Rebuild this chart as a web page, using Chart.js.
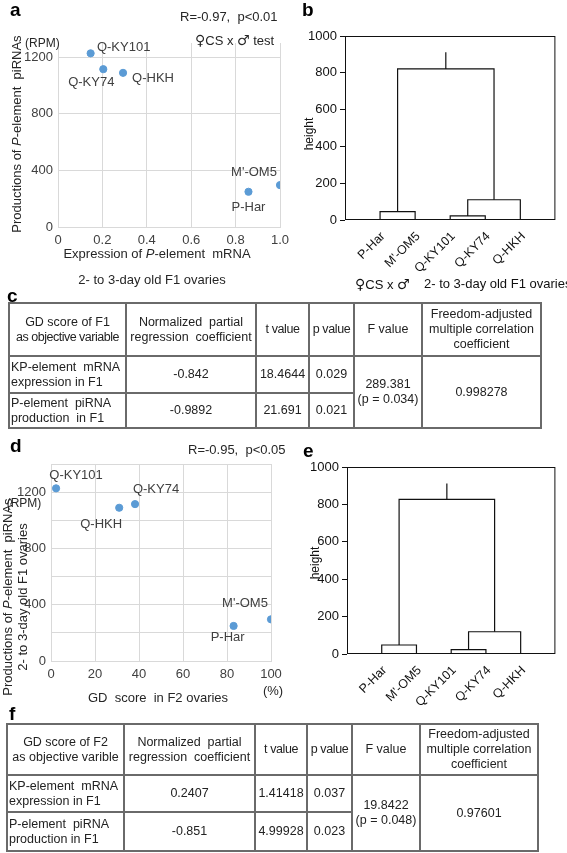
<!DOCTYPE html>
<html lang="en">
<head>
<meta charset="UTF-8">
<title>P-element piRNA / GD score</title>
<script src="https://cdn.jsdelivr.net/npm/chart.js"></script>
<style>
  body { margin:0; background:#fff; }
  #page { position:relative; width:567px; height:853px; overflow:hidden; font-family:"Liberation Sans", Arial, "DejaVu Sans", sans-serif; color:#262626; }
  canvas { position:absolute; }
  .t { position:absolute; white-space:nowrap; line-height:1; }
  .c { transform:translate(-50%,-50%); }
  .r { transform:translate(-50%,-50%) rotate(-90deg); text-align:center; }
  .panel { font-weight:bold; font-size:19px; color:#000; }
  .sym { font-family:"DejaVu Sans", sans-serif; font-size:14px; }
  table.stat { position:absolute; border-collapse:collapse; table-layout:fixed; font-size:12.5px; color:#222; }
  table.stat td { border:2px solid #6a6a6a; text-align:center; vertical-align:middle; padding:0 1px; line-height:15px; white-space:nowrap; overflow:hidden; }
  table.stat td.lab { text-align:left; padding-left:1px; }
</style>
</head>
<body>
<div id="page">
  <canvas id="chartA" style="left:0;top:0" width="300" height="290"></canvas>
  <canvas id="chartB" style="left:300px;top:0" width="267" height="280"></canvas>
  <canvas id="chartD" style="left:0;top:440px" width="300" height="270"></canvas>
  <canvas id="chartE" style="left:300px;top:440px" width="267" height="270"></canvas>

  <!-- panel a -->
  <div class="t panel" style="left:10px;top:0">a</div>
  <div class="t" style="left:180px;top:10px;font-size:13px">R=-0.97,&nbsp; p&lt;0.01</div>
  <div class="t" style="left:195px;top:33px;font-size:13px"><span class="sym">♀</span>CS x <span class="sym">♂</span> test</div>
  <div class="t" style="left:25px;top:37px;font-size:12px">(RPM)</div>
  <div class="t r" style="left:16px;top:134px;font-size:13px">Productions of <i>P</i>-element&nbsp; piRNAs</div>
  <div class="t c" style="left:157px;top:253px;font-size:13px">Expression of <i>P</i>-element&nbsp; mRNA</div>
  <div class="t c" style="left:152px;top:279px;font-size:13px">2- to 3-day old F1 ovaries</div>

  <!-- panel b -->
  <div class="t panel" style="left:302px;top:0">b</div>
  <div class="t r" style="left:309px;top:134px;font-size:12px;color:#111">height</div>
  <div class="t" style="left:355px;top:277px;font-size:13px;color:#111"><span class="sym">♀</span>CS x <span class="sym">♂</span></div>
  <div class="t" style="left:424px;top:277px;font-size:13px;color:#111">2- to 3-day old F1 ovaries</div>

  <!-- panel c -->
  <div class="t panel" style="left:7px;top:286px">c</div>
  <table class="stat" style="left:8px;top:302px">
    <colgroup><col style="width:117px"><col style="width:130px"><col style="width:53px"><col style="width:45px"><col style="width:68px"><col style="width:119px"></colgroup>
    <tr style="height:53px">
      <td>GD score of F1<br><span style="letter-spacing:-0.5px">as objective variable</span></td>
      <td>Normalized&nbsp; partial<br>regression&nbsp; coefficient</td>
      <td style="letter-spacing:-0.4px">t value</td>
      <td style="letter-spacing:-0.4px">p value</td>
      <td>F value</td>
      <td>Freedom-adjusted<br>multiple correlation<br>coefficient</td>
    </tr>
    <tr style="height:37px">
      <td class="lab">KP-element&nbsp; mRNA<br>expression in F1</td>
      <td>-0.842</td>
      <td>18.4644</td>
      <td>0.029</td>
      <td rowspan="2">289.381<br>(p = 0.034)</td>
      <td rowspan="2">0.998278</td>
    </tr>
    <tr style="height:35px">
      <td class="lab">P-element&nbsp; piRNA<br>production&nbsp; in F1</td>
      <td>-0.9892</td>
      <td>21.691</td>
      <td>0.021</td>
    </tr>
  </table>

  <!-- panel d -->
  <div class="t panel" style="left:10px;top:436px">d</div>
  <div class="t" style="left:188px;top:443px;font-size:13px">R=-0.95,&nbsp; p&lt;0.05</div>
  <div class="t r" style="left:15px;top:597px;font-size:13px;line-height:15px">Productions of <i>P</i>-element&nbsp; piRNAs<br>2- to 3-day old F1 ovaries</div>
  <div class="t c" style="left:24px;top:503px;font-size:12px">(RPM)</div>
  <div class="t c" style="left:158px;top:697px;font-size:13px">GD&nbsp; score&nbsp; in F2 ovaries</div>
  <div class="t c" style="left:273px;top:690px;font-size:13px">(%)</div>

  <!-- panel e -->
  <div class="t panel" style="left:303px;top:441px">e</div>
  <div class="t r" style="left:315px;top:563px;font-size:12px;color:#111">height</div>

  <!-- panel f -->
  <div class="t panel" style="left:9px;top:704px">f</div>
  <table class="stat" style="left:6px;top:723px">
    <colgroup><col style="width:117px"><col style="width:131px"><col style="width:52px"><col style="width:45px"><col style="width:68px"><col style="width:118px"></colgroup>
    <tr style="height:51px">
      <td>GD score of F2<br>as objective varible</td>
      <td>Normalized&nbsp; partial<br>regression&nbsp; coefficient</td>
      <td style="letter-spacing:-0.4px">t value</td>
      <td style="letter-spacing:-0.4px">p value</td>
      <td>F value</td>
      <td>Freedom-adjusted<br>multiple correlation<br>coefficient</td>
    </tr>
    <tr style="height:37px">
      <td class="lab">KP-element&nbsp; mRNA<br>expression in F1</td>
      <td>0.2407</td>
      <td>1.41418</td>
      <td>0.037</td>
      <td rowspan="2">19.8422<br>(p = 0.048)</td>
      <td rowspan="2">0.97601</td>
    </tr>
    <tr style="height:39px">
      <td class="lab">P-element&nbsp; piRNA<br>production in F1</td>
      <td>-0.851</td>
      <td>4.99928</td>
      <td>0.023</td>
    </tr>
  </table>
</div>

<script>
// scatter data (a, d)
const strains = ['Q-KY101', 'Q-KY74', 'Q-HKH', "M'-OM5", 'P-Har'];
const mRNAExpression = [0.147, 0.204, 0.293, 1.0, 0.858];
const piRNAProduction = [1227, 1115, 1089, 296, 249];
const gdScoreF2 = [2.3, 38.2, 31, 100, 83];
const yTicksA = [0, 400, 800, 1200];

// dendrograms (b, e): leaves, merges (index >= 5 = earlier merge), heights
const leafNames = ['P-Har', "M'-OM5", 'Q-KY101', 'Q-KY74', 'Q-HKH'];
const mergeLeft = [0, 2, 6, 5];
const mergeRight = [1, 3, 4, 7];
const heightsB = [45, 22, 110, 821];
const rootTopB = 912;
const heightsE = [48, 23, 119, 827];
const rootTopE = 912;

// label placement relative to points (style only)
const labelOffsetsA = [[33, -6], [-12, 13], [30, 6], [-26, -13], [0, 16]];
const labelOffsetsD = [[20, -13], [21, -15], [-18, 17], [-26, -16], [-6, 11]];

Chart.defaults.font.family = '"Liberation Sans", Arial, sans-serif';
Chart.defaults.animation = false;

const pointLabels = {
    id: 'pointLabels',
    afterDatasetsDraw(chart, args, opts) {
        if (!opts.offsets) return;
        const ctx = chart.ctx;
        const meta = chart.getDatasetMeta(0);
        ctx.save();
        ctx.font = '13px "Liberation Sans", Arial, sans-serif';
        ctx.fillStyle = '#404040';
        ctx.textAlign = 'center';
        ctx.textBaseline = 'middle';
        meta.data.forEach((pt, i) => {
            const off = opts.offsets[i];
            ctx.fillText(strains[i], pt.x + off[0], pt.y + off[1]);
        });
        ctx.restore();
    }
};

const boxPlugin = {
    id: 'box',
    afterDraw(chart) {
        const a = chart.chartArea, ctx = chart.ctx;
        ctx.save();
        ctx.strokeStyle = '#111';
        ctx.lineWidth = 1;
        ctx.strokeRect(a.left + 0.5, a.top + 0.5, a.right - a.left - 1, a.bottom - a.top - 1);
        ctx.restore();
    }
};

function scatterChart(id, xs, cfg) {
    const pts = xs.map((x, i) => ({ x: x, y: piRNAProduction[i] }));
    return new Chart(document.getElementById(id), {
        type: 'scatter',
        data: { datasets: [{ data: pts, backgroundColor: '#5B9BD5', borderColor: '#5B9BD5', pointRadius: 3.6 }] },
        options: {
            responsive: false,
            layout: { padding: cfg.padding },
            plugins: { legend: { display: false }, tooltip: { enabled: false }, pointLabels: { offsets: cfg.offsets } },
            scales: {
                x: {
                    min: 0, max: cfg.xMax,
                    ticks: { stepSize: cfg.xStep, padding: 6, color: '#404040', font: { size: 13 }, callback: cfg.xFmt },
                    grid: { color: '#D9D9D9', drawTicks: false },
                    border: { color: '#D9D9D9' },
                    afterFit: s => { s.height = cfg.xHeight; }
                },
                y: {
                    min: 0, max: cfg.yMax,
                    ticks: { stepSize: cfg.yStep, padding: 5, color: '#404040', font: { size: 13 }, callback: cfg.yFmt },
                    grid: { color: '#D9D9D9', drawTicks: false },
                    border: { color: '#D9D9D9' },
                    afterBuildTicks: cfg.yTicks ? (s => { s.ticks = cfg.yTicks.map(v => ({ value: v })); }) : undefined,
                    afterFit: s => { s.width = cfg.yWidth; }
                }
            }
        },
        plugins: [pointLabels]
    });
}

scatterChart('chartA', mRNAExpression, {
    padding: { top: 43, right: 20, left: 0, bottom: 0 },
    xMax: 1.0, xStep: 0.2, xHeight: 63,
    xFmt: v => v === 0 ? '0' : v.toFixed(1),
    yMax: 1300, yStep: 400, yWidth: 58, yTicks: yTicksA,
    yFmt: v => String(v),
    offsets: labelOffsetsA
});

scatterChart('chartD', gdScoreF2, {
    padding: { top: 24, right: 29, left: 0, bottom: 0 },
    xMax: 100, xStep: 20, xHeight: 49,
    xFmt: v => String(v),
    yMax: 1400, yStep: 200, yWidth: 51,
    yFmt: v => v % 400 === 0 ? String(v) : '',
    offsets: labelOffsetsD
});

function dendroDatasets(heights, rootTop) {
    const nodeX = leafNames.map((_, i) => i + 1);
    const nodeY = leafNames.map(() => 0);
    const sets = [];
    heights.forEach((h, i) => {
        const a = mergeLeft[i], b = mergeRight[i];
        sets.push([{ x: nodeX[a], y: nodeY[a] }, { x: nodeX[a], y: h }, { x: nodeX[b], y: h }, { x: nodeX[b], y: nodeY[b] }]);
        nodeX.push((nodeX[a] + nodeX[b]) / 2);
        nodeY.push(h);
    });
    const r = nodeX.length - 1;
    sets.push([{ x: nodeX[r], y: nodeY[r] }, { x: nodeX[r], y: rootTop }]);
    return sets.map(d => ({ data: d, showLine: true, borderColor: '#111', borderWidth: 1.2, pointRadius: 0, tension: 0 }));
}

function dendroChart(id, heights, rootTop, cfg) {
    return new Chart(document.getElementById(id), {
        type: 'scatter',
        data: { datasets: dendroDatasets(heights, rootTop) },
        options: {
            responsive: false,
            layout: { padding: cfg.padding },
            plugins: { legend: { display: false }, tooltip: { enabled: false } },
            scales: {
                x: {
                    min: 0, max: leafNames.length + 1,
                    ticks: {
                        stepSize: 1, autoSkip: false, minRotation: 45, maxRotation: 45, padding: 1, labelOffset: 3,
                        color: '#111', font: { size: 12.5 },
                        callback: v => (v >= 1 && v <= leafNames.length) ? leafNames[v - 1] : ''
                    },
                    grid: { display: false },
                    border: { display: false },
                    afterFit: s => { s.height = cfg.xHeight; }
                },
                y: {
                    min: 0, max: 1000,
                    ticks: { stepSize: 200, padding: 3, color: '#111', font: { size: 13 }, callback: v => String(v) },
                    grid: { drawOnChartArea: false, drawTicks: true, tickLength: 5, color: '#111' },
                    border: { display: false },
                    afterFit: s => { s.width = cfg.yWidth; }
                }
            }
        },
        plugins: [boxPlugin]
    });
}

dendroChart('chartB', heightsB, rootTopB, { padding: { top: 36, right: 1, left: 0, bottom: 0 }, xHeight: 60, yWidth: 45 });
dendroChart('chartE', heightsE, rootTopE, { padding: { top: 27, right: 1, left: 0, bottom: 0 }, xHeight: 56, yWidth: 47 });
</script>
</body>
</html>
